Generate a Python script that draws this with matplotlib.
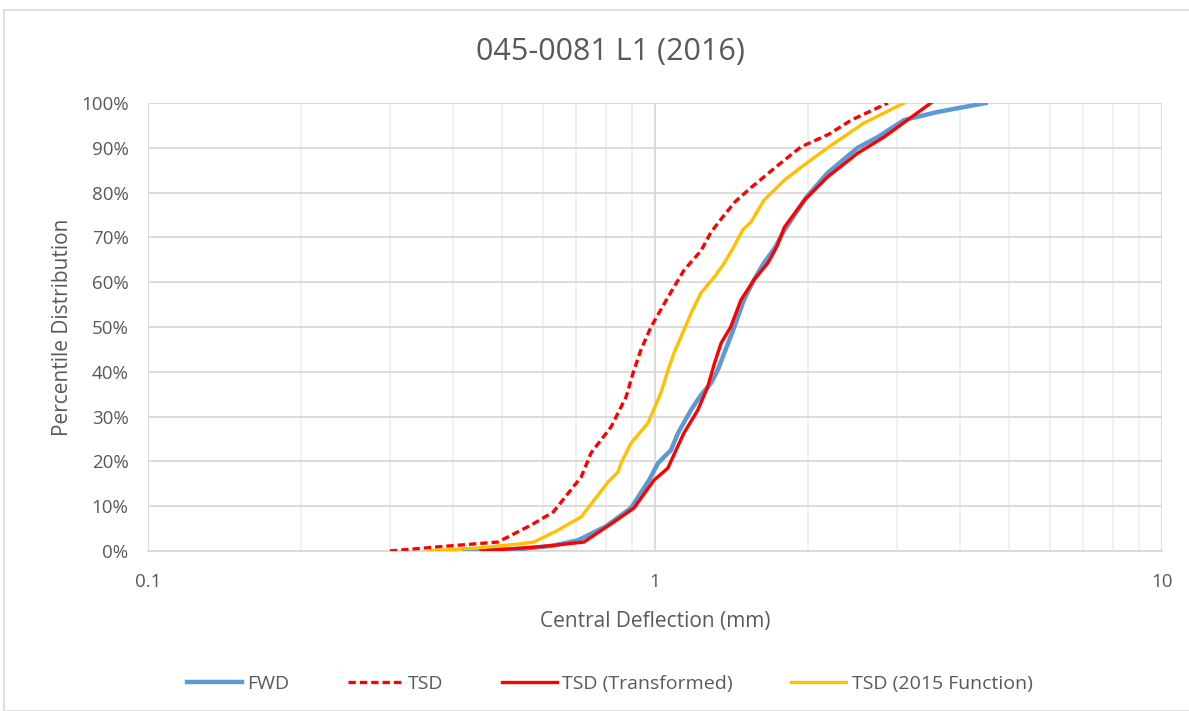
#!/usr/bin/env python3
"""Cumulative distribution of central deflection, FWD vs TSD variants (045-0081 L1, 2016)."""
import matplotlib

matplotlib.use("Agg")
import matplotlib.pyplot as plt
from matplotlib.patches import Rectangle
from matplotlib.ticker import FixedLocator, FuncFormatter, LogLocator, NullFormatter

plt.rcParams.update({"font.family": ["Open Sans", "DejaVu Sans"], "font.size": 12})

TEXT = "#595959"
GRID = "#D9D9D9"

# values: (deflection mm, percentile %)
fwd_x = [0.42, 0.55, 0.63, 0.705, 0.80, 0.897, 0.973, 1.014, 1.042, 1.075, 1.11, 1.178, 1.232,
         1.29, 1.33, 1.37, 1.426, 1.497, 1.567, 1.64, 1.72, 1.80, 1.99, 2.19, 2.51, 2.75, 3.1,
         3.61, 4.49]
fwd_y = [0, 0.5, 1.2, 2.4, 5.5, 9.6, 15.8, 19.6, 21, 22.5, 26.3, 31.5, 34.8,
         37.5, 40.4, 44.2, 49.3, 56, 60.5, 64.3, 67.5, 71.6, 79, 84.4, 90, 92.4, 96.2,
         98, 100]

tsd_x = [0.30, 0.38, 0.49, 0.57, 0.63, 0.692, 0.715, 0.748, 0.819, 0.877, 0.905, 0.938, 0.982,
         1.061, 1.141, 1.232, 1.29, 1.37, 1.44, 1.55, 1.77, 1.94, 2.20, 2.44, 2.88]
tsd_y = [0, 1.0, 2.0, 5.8, 8.7, 14.5, 16.5, 21.9, 27.7, 34.4, 39.7, 44.9, 50,
         56.7, 62.7, 67, 71.2, 75, 78, 81.2, 86.6, 90.2, 93, 96.2, 100]

tsdt_x = [0.454, 0.60, 0.724, 0.83, 0.909, 0.995, 1.06, 1.10, 1.14, 1.215, 1.27, 1.31, 1.35,
          1.41, 1.477, 1.567, 1.67, 1.74, 1.80, 1.97, 2.19, 2.51, 2.83, 3.5]
tsdt_y = [0, 1.0, 2.0, 6.5, 9.6, 15.8, 18.5, 22.5, 26.3, 31.5, 36.6, 41.9, 46.4,
          50, 56, 60.5, 64.3, 68, 72.3, 78.3, 83.5, 88.8, 92.4, 100]

tsd15_x = [0.356, 0.45, 0.533, 0.577, 0.64, 0.715, 0.808, 0.845, 0.857, 0.897, 0.969, 1.027,
           1.061, 1.09, 1.14, 1.178, 1.232, 1.31, 1.37, 1.43, 1.49, 1.546, 1.64, 1.80, 1.97,
           2.19, 2.58, 3.1]
tsd15_y = [0, 0.7, 1.5, 2.0, 4.5, 7.6, 15.4, 17.6, 19.6, 24.1, 28.6, 35.3,
           40.4, 44.2, 49.3, 53.1, 57.6, 61.2, 64.3, 67.9, 71.7, 73.4, 78.3, 82.8, 86.2,
           90, 95.5, 100]

x_ticks = [0.1, 1, 10]
x_tick_labels = ["0.1", "1", "10"]
y_ticks = list(range(0, 101, 10))

fig = plt.figure(figsize=(11.89, 7.11), dpi=100)
fig.patches.append(Rectangle((4 / 1189, 0), 1.2, 1 - 10 / 711, transform=fig.transFigure,
                             facecolor="none", edgecolor=GRID, linewidth=1.2))
ax = fig.add_axes([148 / 1189, 1 - 551 / 711, (1162 - 148) / 1189, (551 - 103) / 711])

ax.plot(fwd_x, fwd_y, color="#5B9BD5", linewidth=3.2, label="FWD", zorder=3)
ax.plot(tsd_x, tsd_y, color="#FF0000", linewidth=2.4, linestyle=(0, (2.2, 1.2)), label="TSD", zorder=4)
ax.plot(tsdt_x, tsdt_y, color="#FF0000", linewidth=2.4, label="TSD (Transformed)", zorder=5)
ax.plot(tsd15_x, tsd15_y, color="#FFC000", linewidth=2.4, label="TSD (2015 Function)", zorder=4)

ax.set_xscale("log")
ax.set_xlim(0.1, 10)
ax.set_ylim(0, 100)
ax.xaxis.set_major_locator(FixedLocator(x_ticks))
ax.set_xticklabels(x_tick_labels)
ax.xaxis.set_minor_locator(LogLocator(base=10, subs=range(2, 10)))
ax.xaxis.set_minor_formatter(NullFormatter())
ax.set_yticks(y_ticks)
ax.yaxis.set_major_formatter(FuncFormatter(lambda v, _: f"{v:.0f}%"))

ax.grid(True, which="major", color=GRID, linewidth=1.3)
ax.grid(True, which="minor", axis="x", color="#EDEDED", linewidth=1.2)
ax.set_axisbelow(True)
for side in ("top", "right", "left"):
    ax.spines[side].set_visible(False)
ax.spines["bottom"].set_color(GRID)
ax.spines["bottom"].set_linewidth(1.3)
ax.tick_params(which="both", length=0, labelsize=13.5, colors=TEXT)
ax.tick_params(axis="x", pad=16)
ax.tick_params(axis="y", pad=14)

ax.set_xlabel("Central Deflection (mm)", fontsize=15, color=TEXT, labelpad=14)
ax.set_ylabel("Percentile Distribution", fontsize=15, color=TEXT, labelpad=6)
fig.text(0.513, 1 - 52 / 711, "045-0081 L1 (2016)", ha="center", va="center", fontsize=22, color=TEXT)

fig.legend(loc="center", bbox_to_anchor=(0.513, 1 - 684 / 711), ncol=4, frameon=False,
           fontsize=14, labelcolor=TEXT, handlelength=2.8, columnspacing=3.0, handletextpad=0.3)

fig.savefig("out.png", dpi=100)
